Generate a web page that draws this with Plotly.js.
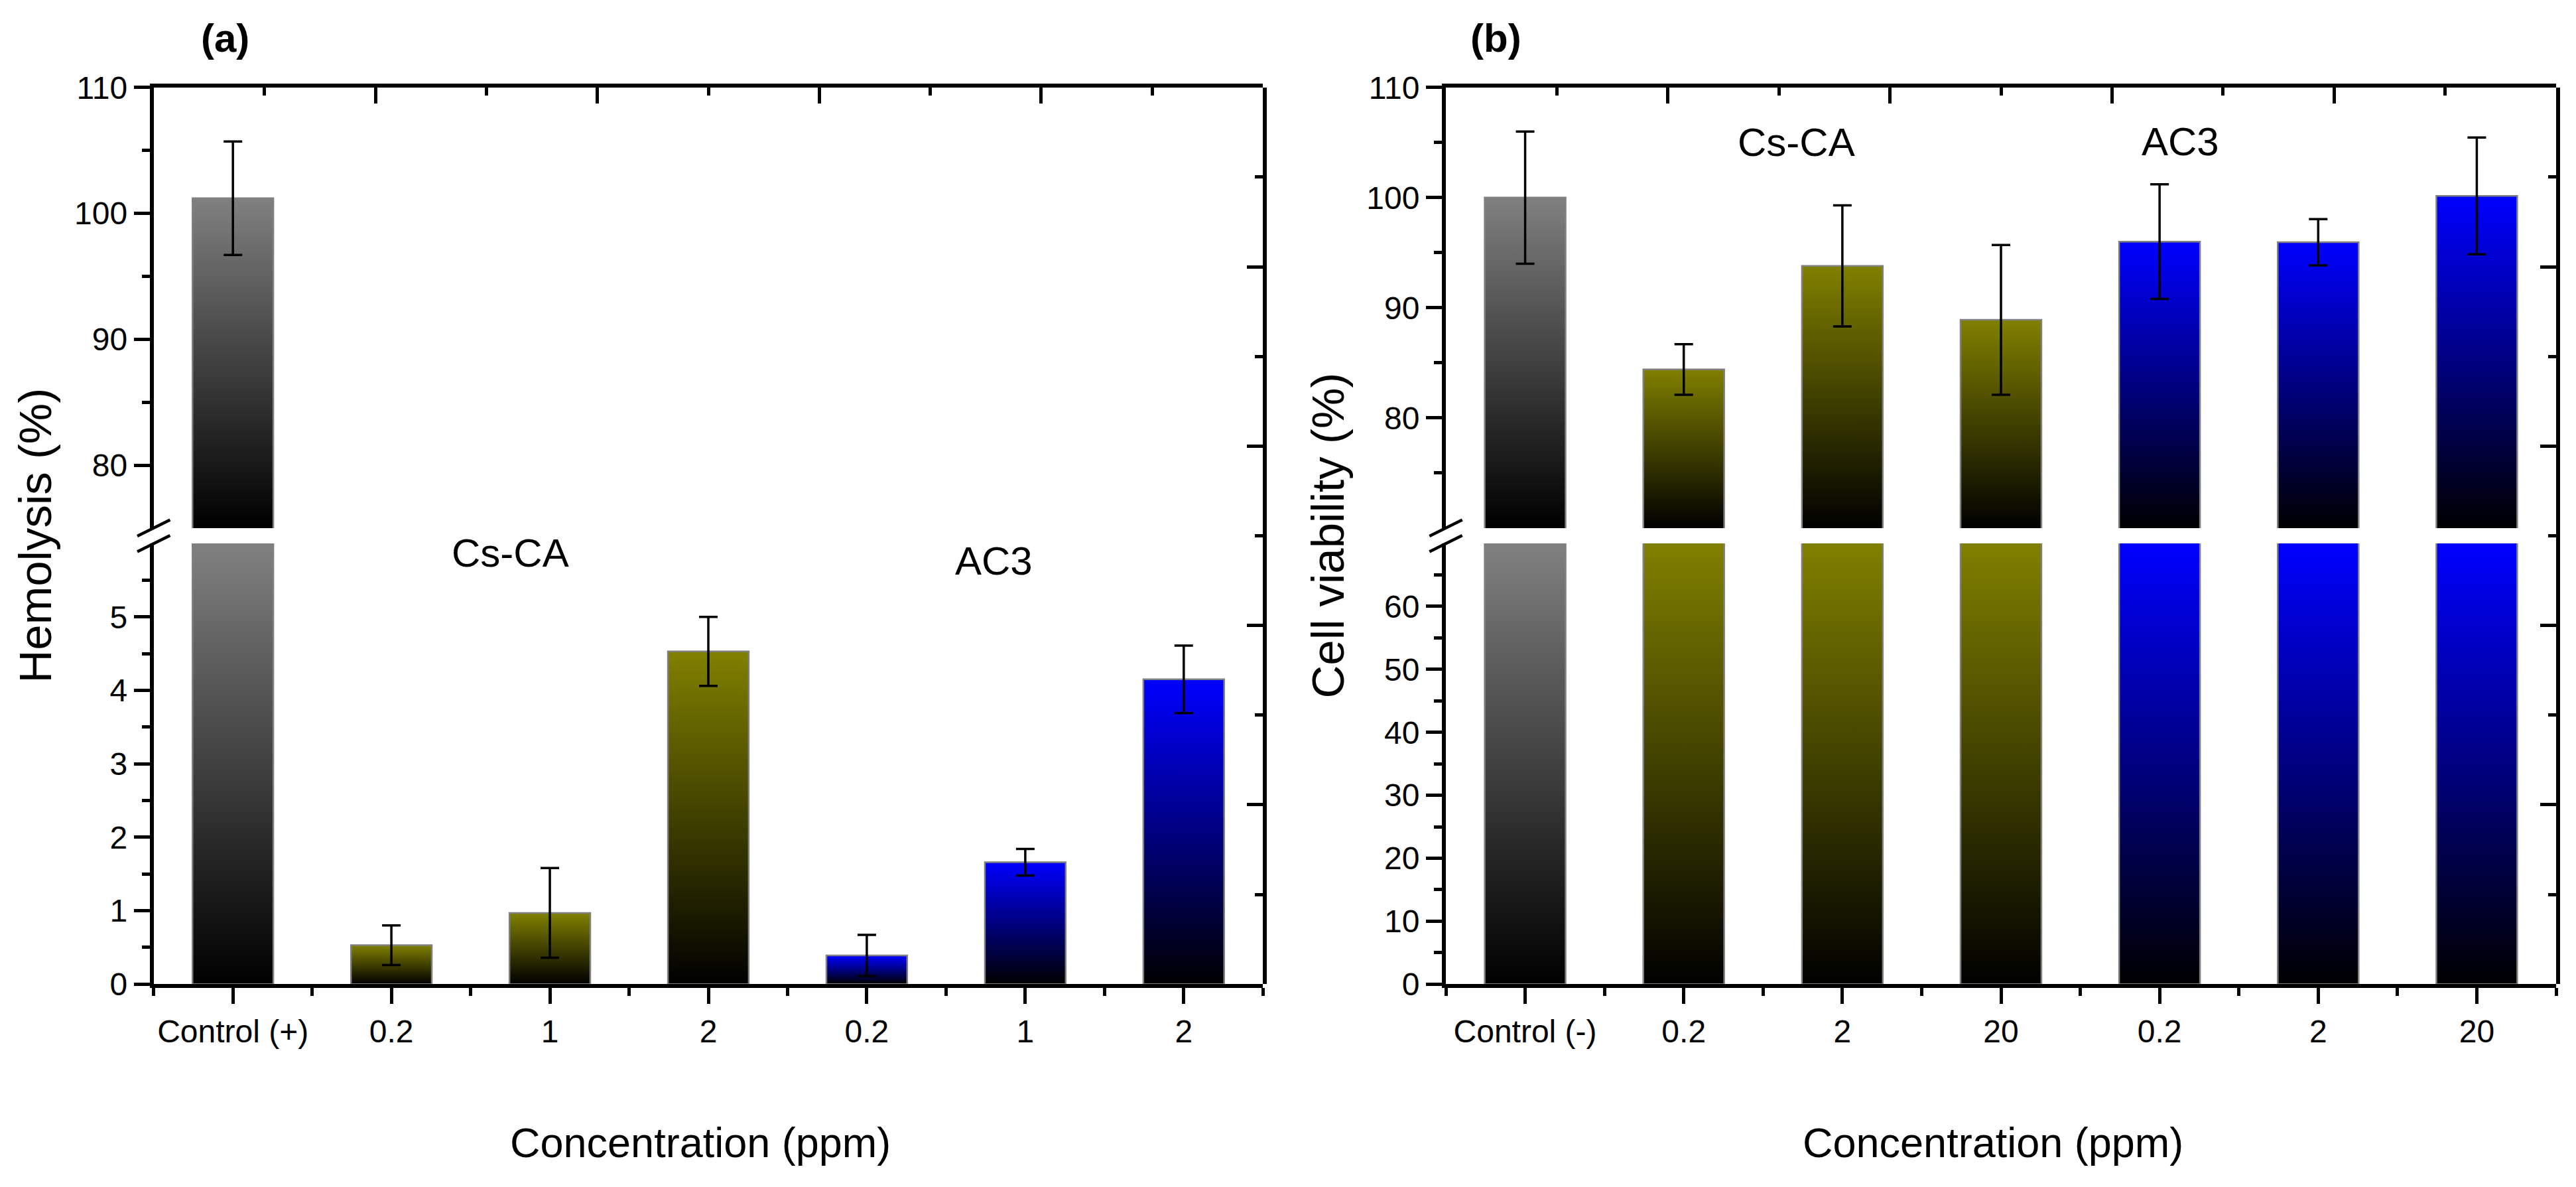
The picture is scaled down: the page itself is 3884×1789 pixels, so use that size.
<!DOCTYPE html>
<html>
<head>
<meta charset="utf-8">
<script src="https://cdn.plot.ly/plotly-3.0.1.min.js"></script>
<style>html,body{margin:0;padding:0;background:#fff;}#chart{width:3884px;height:1789px;}</style>
</head>
<body>
<div id="chart"></div>
<script>
// ---------------- data ----------------
const catsA = ['Control (+)', '0.2', '1', '2', '0.2', '1', '2'];
const hemolysis = [101.2, 0.53, 0.97, 4.53, 0.39, 1.66, 4.15];
const hemolysisErr = [4.5, 0.27, 0.61, 0.47, 0.28, 0.18, 0.46];
const colorsA = ['#808080', '#808000', '#808000', '#808000', '#0000ff', '#0000ff', '#0000ff'];

const catsB = ['Control (-)', '0.2', '2', '20', '0.2', '2', '20'];
const viability = [100.0, 84.4, 93.8, 88.9, 96.0, 95.95, 100.15];
const viabilityErr = [6.0, 2.3, 5.5, 6.8, 5.2, 2.1, 5.3];
const colorsB = ['#808080', '#808000', '#808000', '#808000', '#0000ff', '#0000ff', '#0000ff'];

const groupLabels = ['Cs-CA', 'AC3'];

// ---------------- layout geometry ----------------
const W = 3884, H = 1789;
const fx = p => p / W;
const fy = p => 1 - p / H;
const FONT = 'Liberation Sans, Arial, Helvetica, sans-serif';

const plotTop = 131.7, plotBottom = 1483.3, breakTop = 796, breakBottom = 819;
const panels = [
  {left: 231.7, right: 1904.3, cats: catsA, vals: hemolysis, errs: hemolysisErr, colors: colorsA,
   lower: [0, 6], upper: [75, 110],
   lowerTicks: [0, 1, 2, 3, 4, 5], lowerMinor: [0.5, 1.5, 2.5, 3.5, 4.5, 5.5],
   upperTicks: [80, 90, 100, 110], upperMinor: [85, 95, 105],
   ids: {x: 'x', y: 'y', y2: 'y2', xt: 'x2', yr: 'y3'},
   label: '(a)', labelX: 339, ytitle: 'Hemolysis (%)', ytitleX: 53,
   grpPos: [[1.75, 5.87, 'lower'], [4.80, 5.76, 'lower']]},
  {left: 2180, right: 3854, cats: catsB, vals: viability, errs: viabilityErr, colors: colorsB,
   lower: [0, 70], upper: [70, 110],
   lowerTicks: [0, 10, 20, 30, 40, 50, 60], lowerMinor: [5, 15, 25, 35, 45, 55, 65],
   upperTicks: [80, 90, 100, 110], upperMinor: [75, 85, 95, 105],
   ids: {x: 'x3', y: 'y4', y2: 'y5', xt: 'x4', yr: 'y6'},
   label: '(b)', labelX: 2255, ytitle: 'Cell viability (%)', ytitleX: 2002,
   grpPos: [[1.71, 105.0, 'upper'], [4.13, 105.1, 'upper']]}
];

const layout = {
  width: W, height: H,
  margin: {l: 0, r: 0, t: 0, b: 0, autoexpand: false},
  paper_bgcolor: '#ffffff', plot_bgcolor: 'rgba(0,0,0,0)',
  showlegend: false,
  font: {family: FONT, color: '#000000'},
  annotations: [], shapes: []
};
const data = [];

const lineStyle = {showline: true, linecolor: '#000', linewidth: 6, showgrid: false, zeroline: false,
  tickcolor: '#000', tickwidth: 5, ticklen: 24, fixedrange: true,
  tickfont: {family: FONT, size: 48, color: '#000'}};
const lname = id => id.length === 1 ? id + 'axis' : id[0] + 'axis' + id.slice(1);
const minorStyle = (vals, dir) => ({tickmode: 'array', tickvals: vals, ticks: dir, ticklen: 12, tickwidth: 5, tickcolor: '#000', showgrid: false});

const yLowerDom = [fy(plotBottom), fy(breakBottom)];
const yUpperDom = [fy(breakTop), fy(plotTop)];
const yFullDom = [fy(plotBottom), fy(plotTop)];
const barWidth = 0.51;

panels.forEach(p => {
  const ids = p.ids;
  const xdom = [fx(p.left), fx(p.right)];
  const n = p.vals.length;
  const xs = p.cats.map((c, i) => i);
  const halfTicks = xs.concat([n]).map(v => v - 0.5);

  layout[lname(ids.x)] = Object.assign({}, lineStyle, {
    domain: xdom, anchor: ids.y, range: [-0.5, n - 0.5], side: 'bottom',
    tickmode: 'array', tickvals: xs, ticktext: p.cats, ticks: 'outside',
    minor: minorStyle(halfTicks, 'outside')
  });
  layout[lname(ids.y)] = Object.assign({}, lineStyle, {
    domain: yLowerDom, anchor: ids.x, range: p.lower, side: 'left',
    tickmode: 'array', tickvals: p.lowerTicks, ticks: 'outside',
    minor: minorStyle(p.lowerMinor, 'outside')
  });
  layout[lname(ids.y2)] = Object.assign({}, lineStyle, {
    domain: yUpperDom, anchor: ids.x, range: p.upper, side: 'left',
    tickmode: 'array', tickvals: p.upperTicks, ticks: 'outside',
    minor: minorStyle(p.upperMinor, 'outside')
  });
  // top frame with inward ticks
  layout[lname(ids.xt)] = Object.assign({}, lineStyle, {
    overlaying: ids.x, anchor: ids.y2, side: 'top', range: [0, 10],
    tickmode: 'array', tickvals: [2, 4, 6, 8], ticks: 'inside', showticklabels: false,
    minor: minorStyle([1, 3, 5, 7, 9], 'inside')
  });
  // right frame with inward ticks, spanning whole panel
  layout[lname(ids.yr)] = Object.assign({}, lineStyle, {
    domain: yFullDom, anchor: ids.x, side: 'right', range: [0, 10],
    tickmode: 'array', tickvals: [2, 4, 6, 8], ticks: 'inside', showticklabels: false,
    minor: minorStyle([1, 3, 5, 7, 9], 'inside')
  });
  data.push({type: 'scatter', x: [null], y: [null], xaxis: ids.xt, yaxis: ids.y2, mode: 'markers', hoverinfo: 'skip', showlegend: false});
  data.push({type: 'scatter', x: [null], y: [null], xaxis: ids.x, yaxis: ids.yr, mode: 'markers', hoverinfo: 'skip', showlegend: false});

  // gradient bars for each segment of the broken axis
  [[ids.y, p.lower], [ids.y2, p.upper]].forEach(([yid, rng]) => {
    const lo = rng[0], hi = rng[1], pad = (hi - lo) * 0.05;
    p.vals.forEach((v, i) => {
      if (v <= lo) return;
      const visTop = Math.min(v, hi), visBot = Math.max(0, lo);
      const top = v > hi ? hi + pad : v;
      const bot = lo > 0 ? lo - pad : 0;
      const x0 = xs[i] - barWidth / 2, x1 = xs[i] + barWidth / 2;
      data.push({
        type: 'scatter', xaxis: ids.x, yaxis: yid,
        x: [x0, x0, x1, x1, x0], y: [bot, top, top, bot, bot],
        mode: 'lines', fill: 'toself',
        line: {color: '#808080', width: 2.5},
        fillgradient: {type: 'vertical', start: visBot, stop: visTop,
          colorscale: [[0, '#000000'], [1, p.colors[i]]]},
        hoverinfo: 'skip', showlegend: false
      });
    });
    // error bars
    data.push({
      type: 'scatter', xaxis: ids.x, yaxis: yid, x: xs, y: p.vals, mode: 'markers',
      marker: {size: 1, color: 'rgba(0,0,0,0)'},
      error_y: {type: 'data', array: p.errs, visible: true, color: '#000', thickness: 3.5, width: 14},
      hoverinfo: 'skip', showlegend: false
    });
  });

  // break marks on left axis
  const bx = p.left, bmid = (breakTop + breakBottom) / 2;
  [-11.7, 11.7].forEach(dy => {
    layout.shapes.push({type: 'line', xref: 'paper', yref: 'paper',
      x0: fx(bx - 24.7), y0: fy(bmid + dy + 12.2), x1: fx(bx + 24.7), y1: fy(bmid + dy - 12.2),
      line: {color: '#000', width: 4.5}});
  });

  // panel label
  layout.annotations.push({xref: 'paper', yref: 'paper', x: fx(p.labelX), y: fy(58), text: '<b>' + p.label + '</b>',
    showarrow: false, xanchor: 'center', yanchor: 'middle', font: {family: FONT, size: 60, color: '#000'}});
  // y title (centred on the whole broken axis)
  layout.annotations.push({xref: 'paper', yref: 'paper', x: fx(p.ytitleX), y: fy((plotTop + plotBottom) / 2), text: p.ytitle,
    textangle: -90, showarrow: false, xanchor: 'center', yanchor: 'middle', font: {family: FONT, size: 69, color: '#000'}});
  // x title
  layout.annotations.push({xref: 'paper', yref: 'paper', x: fx((p.left + p.right) / 2 - 12), y: fy(1722), text: 'Concentration (ppm)',
    showarrow: false, xanchor: 'center', yanchor: 'middle', font: {family: FONT, size: 63, color: '#000'}});
  // group labels
  p.grpPos.forEach((g, k) => {
    layout.annotations.push({xref: ids.x, yref: g[2] === 'lower' ? ids.y : ids.y2, x: g[0], y: g[1], text: groupLabels[k],
      showarrow: false, xanchor: 'center', yanchor: 'middle', font: {family: FONT, size: 60, color: '#000'}});
  });
});

Plotly.newPlot('chart', data, layout, {staticPlot: true, displayModeBar: false});
</script>
</body>
</html>
